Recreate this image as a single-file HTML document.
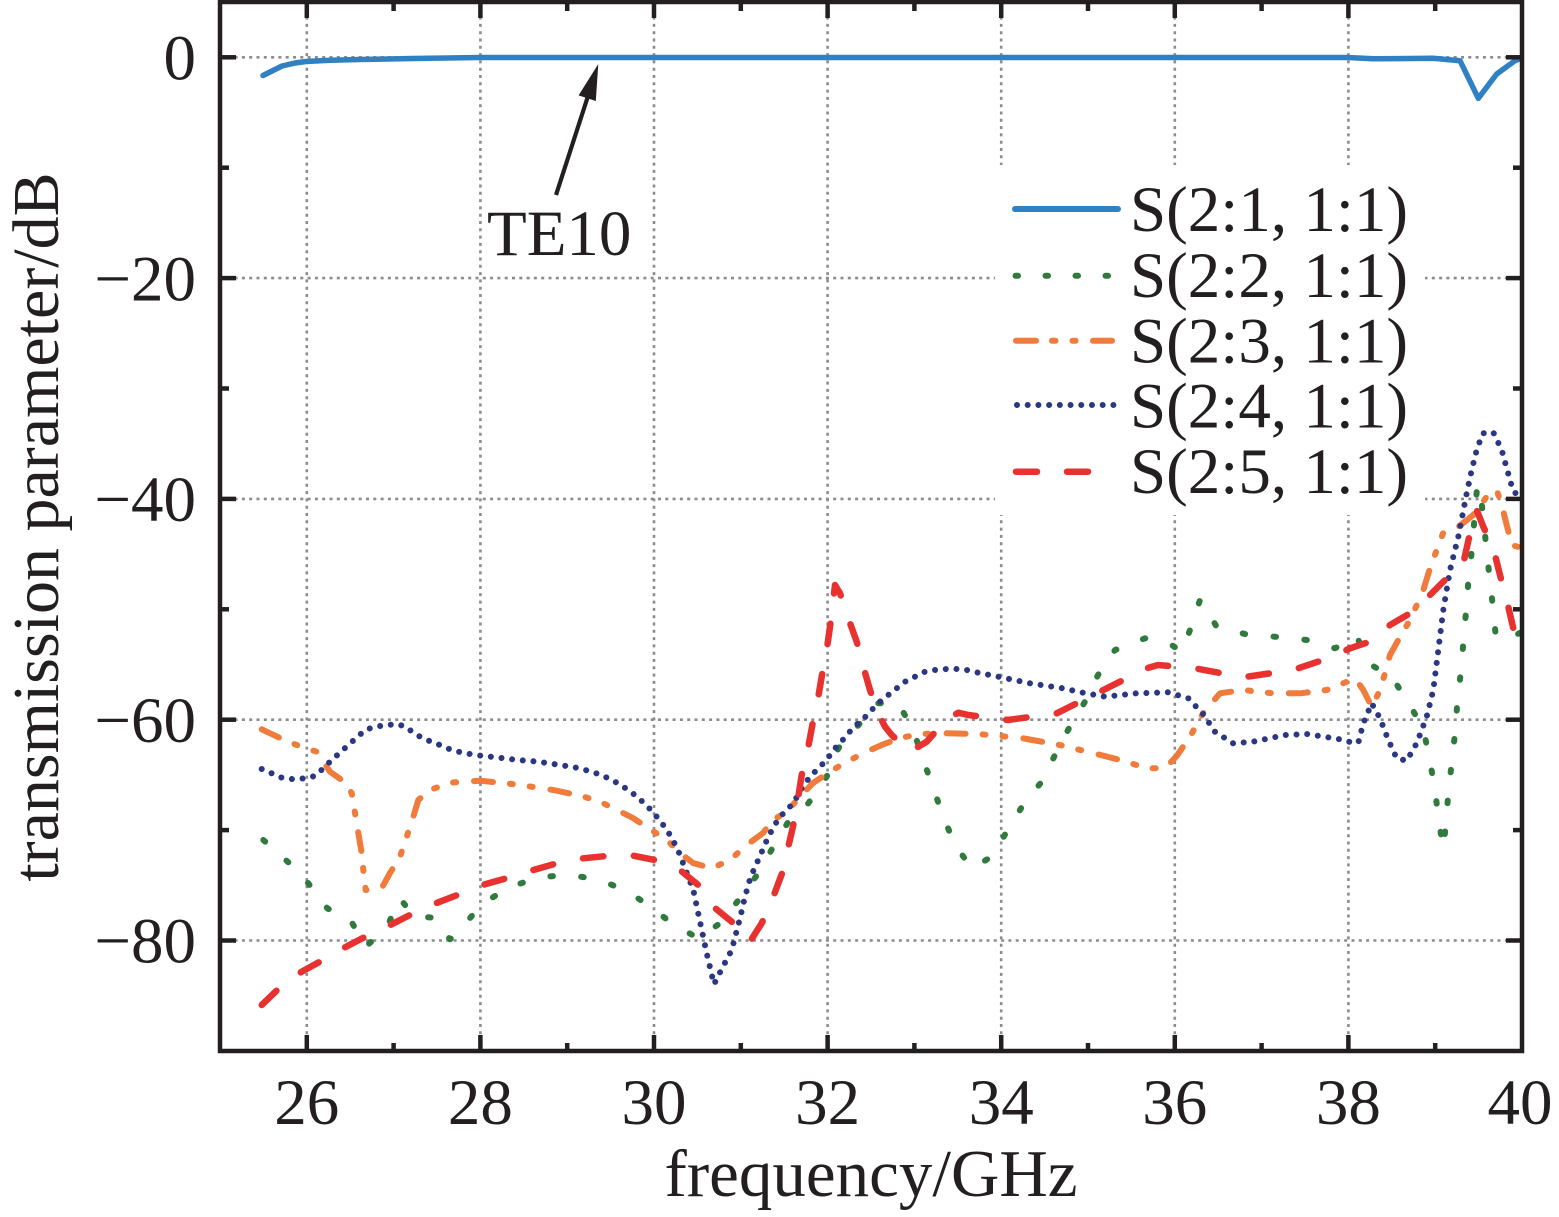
<!DOCTYPE html>
<html>
<head>
<meta charset="utf-8">
<style>
html,body{margin:0;padding:0;background:#fff;}
svg{display:block;}
text{font-family:"Liberation Serif","Times New Roman",serif;fill:#231f20;}
</style>
</head>
<body>
<svg width="1559" height="1217" viewBox="0 0 1559 1217" xmlns="http://www.w3.org/2000/svg">
<defs>
<clipPath id="pa"><rect x="220" y="2" width="1302" height="1049"/></clipPath>
</defs>
<rect x="0" y="0" width="1559" height="1217" fill="#fff"/>

<!-- gridlines -->
<g stroke="#8c8c8c" stroke-width="2.6" stroke-dasharray="3 4.3" fill="none">
<line x1="220" y1="57.3" x2="1522" y2="57.3"/>
<line x1="220" y1="278.1" x2="1522" y2="278.1"/>
<line x1="220" y1="498.9" x2="1522" y2="498.9"/>
<line x1="220" y1="719.7" x2="1522" y2="719.7"/>
<line x1="220" y1="940.5" x2="1522" y2="940.5"/>
<line x1="306.8" y1="2" x2="306.8" y2="1051"/>
<line x1="480.4" y1="2" x2="480.4" y2="1051"/>
<line x1="654" y1="2" x2="654" y2="1051"/>
<line x1="827.6" y1="2" x2="827.6" y2="1051"/>
<line x1="1001.2" y1="2" x2="1001.2" y2="1051"/>
<line x1="1174.8" y1="2" x2="1174.8" y2="1051"/>
<line x1="1348.4" y1="2" x2="1348.4" y2="1051"/>
</g>

<g clip-path="url(#pa)" fill="none" stroke-linejoin="round">
<!-- S(2:2) green dotted -->
<polyline stroke="#2f7a3c" stroke-width="6" stroke-linecap="round" stroke-dasharray="2.5 28.5" points="263.3,840 288.3,862.3 308.3,883.3 327.3,908.3 351,921 365.7,946.7 386.7,927.7 400,898.3 413.3,916 433.3,917.7 450,939.3 463.3,926 481.7,904.3 508.3,887.7 538.3,877.3 568.3,875 596.7,879 625,890 648.3,905 671.7,923.3 698.3,938.3 720,923.3 740,898.3 758.3,873.3 773.3,846.7 788.3,821.7 808.3,803.3 826.7,776.7 838.3,748.3 860,723.3 876.7,703.3 898.3,703.3 913.3,730 923.3,760 933.3,788.3 943.3,816.7 955,845 971.7,868.3 991.7,856.7 1006.7,831.7 1023,805 1041.7,781.7 1055,755 1068,730 1085,701.7 1098,675 1115,650 1145,638.3 1171.7,645 1181.7,651.7 1190,630 1200,600 1216.7,626.7 1245,634 1275,636.7 1306.7,640 1335,648.3 1356.7,636 1368.3,663.3 1391.7,676.7 1408.3,702.7 1423.3,728.3 1429.3,758.3 1435,788.3 1438.3,818.3 1443.3,848.3 1446,823.3 1448.3,793.3 1451.7,763.3 1455,733.3 1457.3,703.3 1460.7,673.3 1463.3,643.3 1466,611.7 1468.3,581.7 1471.7,551.7 1476.7,491.7 1479.3,485 1483.3,516.7 1486,545 1489.3,575 1492.7,605 1495.7,635 1505,640 1522,632"/>
<!-- S(2:3) orange dash-dot-dot -->
<polyline stroke="#f07b3a" stroke-width="6" stroke-linecap="round" stroke-dasharray="19 17 3 17 3 18" points="261.7,729.3 280,738 296.7,745 316.7,751.7 330,771.7 341.7,780 351.7,793 355,813 358.3,833 361.7,853 363.3,870 365.7,890 381.7,888 390,873 400,856.7 406.7,836.7 413.3,816.7 418.3,800 430,790 450,782.7 480,780.7 506.7,783.3 526.7,786 553.3,790 581.7,796 600,801.7 623,813 633,818 648,828 667,840 680,853 693,863 711.7,868.3 730,860 746.7,845 763,833 773,820 786.7,811.7 800,796.7 813,783 830,771.7 846.7,761.7 866.7,751.7 881.7,745 900,738 920,734 946.7,733.3 978,734 996.7,735.7 1023,738.3 1060,745 1096.7,754 1123,760.7 1146.7,768.3 1165,768.3 1176.7,756 1190,736.7 1203,713.3 1220,693.3 1243,690 1273,693.3 1300,693.3 1326.7,690 1335,686.7 1355,678.3 1363.3,690 1371.7,706.7 1379.3,691.7 1385,673.3 1390,655 1398.3,640 1410,620 1418.3,601.7 1423.3,590 1430,568.3 1436.7,550 1443.3,532.7 1458.3,526.7 1473.3,515 1486.7,496.7 1496.7,490 1501.7,505 1506.7,525 1511.7,545 1522,548"/>
<!-- S(2:4) navy dotted -->
<polyline stroke="#2b3781" stroke-width="6" stroke-linecap="round" stroke-dasharray="0.01 10.7" points="261.7,769 273.3,774 283.3,778.3 295,779.3 305,778.3 315,776 323.3,768.3 331.7,760 340,752.7 348.3,745 356.7,737.7 365,730 375,726.7 385.7,725.3 396.7,724 405.7,726.7 413.3,732.7 424,739 434.3,742.7 453.3,750.7 475,755 496,757.3 517.7,760 538.3,761.7 560,765 580,768.3 601.7,775 620,784.3 637.3,796.7 652.7,811.7 666.7,829.3 677.3,848.3 685,868.3 693.3,890 700,921.7 706.7,953.3 714,984.3 721.7,969 731.7,950 740,918.3 745,896.7 750.7,876.7 760,856 768.3,836.7 776.7,821.7 783.3,813.3 793.3,803.3 801.7,788.3 810,776.7 818.3,768.3 826.7,760 833.3,750 840,743.3 848.3,733.3 855,726 864,718.3 871.7,710 880,701.7 888.3,695 896.7,688.3 905,681.7 915,676.7 925,671.7 935,670 946.7,669 956.7,669 966.7,670 978.3,672.7 998.3,676.7 1030,683.3 1063,688.3 1083,692.7 1105,696.7 1136.7,693.3 1168,692.3 1188.3,698.3 1203,714 1215,731.7 1233,743.3 1253,741.7 1285,735 1306.7,734 1338.3,739 1348.3,741.7 1358.3,742.7 1363.3,723.3 1371.7,703.3 1380,718.3 1388.3,740 1396.7,758.3 1406.7,760.7 1416.7,743.3 1426.7,716.7 1433.3,690 1438.3,650 1443.3,610 1450,570 1458.3,536.7 1466.7,493.3 1471.7,470 1476.7,450 1482.7,433.3 1493.3,432.3 1501.7,450 1510,480 1513.3,491.7 1522,497"/>
<!-- S(2:5) red dashed -->
<polyline stroke="#e8322f" stroke-width="6.5" stroke-linecap="round" stroke-dasharray="20.5 30.5" points="261.7,1005 278.3,989 301.7,971.7 321.7,960.7 345,947.3 366.7,936 388.3,926 413.3,913.3 438.3,902.3 460,894 485,884.3 508.3,877.7 533.3,870 556.7,863.3 583.3,858.3 606.7,856 633.3,855.7 655,860 680,870 698.3,885 713.3,906.7 731.7,921.7 750,941.7 761.7,923.3 773.3,896.7 783.3,870 788.3,846.7 793.3,825 798.3,796.7 801.7,775 808.3,746.7 813.3,720 818.3,696.7 821.7,676.7 826.7,650 830,626.7 833.3,600 835,585 840,593.3 848.3,618.3 856.7,641.7 863.3,666.7 870,690 878.3,713.3 885,726.7 891.7,735 910,751.7 926.7,741.7 946.7,719.3 958.3,712.7 968.3,715 1008,720 1056.7,713.3 1100,691.7 1146.7,668.3 1158,665 1195,668.3 1243,677.3 1293,670 1333,656.7 1350,648.3 1375,640 1390,625 1410,613.3 1426.7,598.3 1448.3,576.7 1463.3,563.3 1470,533.3 1476.7,510 1483.3,526.7 1493.3,548.3 1500,575 1506.7,600 1513.3,628.3 1522,632"/>
<!-- S(2:1) blue solid -->
<polyline stroke="#3080c4" stroke-width="5.5" stroke-linecap="round" points="263,75.5 272,71 282,66 295,63 306,61.5 330,60.3 360,59.5 413,58.5 480,57.5 1348,57.5 1373,58.8 1433,58.3 1460,60.7 1478.3,98.3 1496.7,74 1515,60.7 1522,58"/>
</g>

<!-- legend -->
<rect x="995" y="165" width="430" height="350" fill="#fff"/>
<g fill="none" stroke-linecap="round">
<line x1="1015" y1="209" x2="1118" y2="209" stroke="#3080c4" stroke-width="6"/>
<line x1="1015.5" y1="275.7" x2="1115" y2="275.7" stroke="#2f7a3c" stroke-width="6" stroke-dasharray="2.5 27.5"/>
<line x1="1016" y1="340.7" x2="1036" y2="340.7" stroke="#f07b3a" stroke-width="6"/>
<line x1="1052" y1="340.7" x2="1055.5" y2="340.7" stroke="#f07b3a" stroke-width="6"/>
<line x1="1072.5" y1="340.7" x2="1075.5" y2="340.7" stroke="#f07b3a" stroke-width="6"/>
<line x1="1093" y1="340.7" x2="1112" y2="340.7" stroke="#f07b3a" stroke-width="6"/>
<line x1="1017" y1="405" x2="1114" y2="405" stroke="#2b3781" stroke-width="6" stroke-dasharray="0.01 10.7"/>
<line x1="1016" y1="471.7" x2="1037" y2="471.7" stroke="#e8322f" stroke-width="6.5"/>
<line x1="1067" y1="471.7" x2="1088" y2="471.7" stroke="#e8322f" stroke-width="6.5"/>
</g>
<g font-size="65">
<text x="1130" y="231">S(2:1, 1:1)</text>
<text x="1130" y="297">S(2:2, 1:1)</text>
<text x="1130" y="362.5">S(2:3, 1:1)</text>
<text x="1130" y="427.5">S(2:4, 1:1)</text>
<text x="1130" y="493">S(2:5, 1:1)</text>
</g>

<!-- annotation -->
<line x1="556" y1="195" x2="589" y2="93" stroke="#231f20" stroke-width="4.2"/>
<polygon points="598.3,64 595.8,101 578.6,95.4" fill="#231f20"/>
<text x="487" y="255" font-size="65">TE10</text>

<!-- axes frame -->
<rect x="220" y="2" width="1302" height="1049" fill="none" stroke="#231f20" stroke-width="4.5"/>

<!-- ticks -->
<g stroke="#231f20" stroke-width="4.5">
<!-- bottom major -->
<line x1="306.8" y1="1051" x2="306.8" y2="1035"/><line x1="480.4" y1="1051" x2="480.4" y2="1035"/>
<line x1="654" y1="1051" x2="654" y2="1035"/><line x1="827.6" y1="1051" x2="827.6" y2="1035"/>
<line x1="1001.2" y1="1051" x2="1001.2" y2="1035"/><line x1="1174.8" y1="1051" x2="1174.8" y2="1035"/>
<line x1="1348.4" y1="1051" x2="1348.4" y2="1035"/>
<!-- bottom minor -->
<line x1="393.6" y1="1051" x2="393.6" y2="1043"/><line x1="567.2" y1="1051" x2="567.2" y2="1043"/>
<line x1="740.8" y1="1051" x2="740.8" y2="1043"/><line x1="914.4" y1="1051" x2="914.4" y2="1043"/>
<line x1="1088" y1="1051" x2="1088" y2="1043"/><line x1="1261.6" y1="1051" x2="1261.6" y2="1043"/>
<line x1="1435.2" y1="1051" x2="1435.2" y2="1043"/>
<!-- top major -->
<line x1="306.8" y1="2" x2="306.8" y2="18"/><line x1="480.4" y1="2" x2="480.4" y2="18"/>
<line x1="654" y1="2" x2="654" y2="18"/><line x1="827.6" y1="2" x2="827.6" y2="18"/>
<line x1="1001.2" y1="2" x2="1001.2" y2="18"/><line x1="1174.8" y1="2" x2="1174.8" y2="18"/>
<line x1="1348.4" y1="2" x2="1348.4" y2="18"/>
<!-- top minor -->
<line x1="393.6" y1="2" x2="393.6" y2="11"/><line x1="567.2" y1="2" x2="567.2" y2="11"/>
<line x1="740.8" y1="2" x2="740.8" y2="11"/><line x1="914.4" y1="2" x2="914.4" y2="11"/>
<line x1="1088" y1="2" x2="1088" y2="11"/><line x1="1261.6" y1="2" x2="1261.6" y2="11"/>
<line x1="1435.2" y1="2" x2="1435.2" y2="11"/>
<!-- left major -->
<line x1="220" y1="57.3" x2="236" y2="57.3"/><line x1="220" y1="278.1" x2="236" y2="278.1"/>
<line x1="220" y1="498.9" x2="236" y2="498.9"/><line x1="220" y1="719.7" x2="236" y2="719.7"/>
<line x1="220" y1="940.5" x2="236" y2="940.5"/>
<!-- left minor -->
<line x1="220" y1="167.7" x2="229" y2="167.7"/><line x1="220" y1="388.5" x2="229" y2="388.5"/>
<line x1="220" y1="609.3" x2="229" y2="609.3"/><line x1="220" y1="830.1" x2="229" y2="830.1"/>
<!-- right major -->
<line x1="1522" y1="57.3" x2="1506" y2="57.3"/><line x1="1522" y1="278.1" x2="1506" y2="278.1"/>
<line x1="1522" y1="498.9" x2="1506" y2="498.9"/><line x1="1522" y1="719.7" x2="1506" y2="719.7"/>
<line x1="1522" y1="940.5" x2="1506" y2="940.5"/>
<!-- right minor -->
<line x1="1522" y1="167.7" x2="1513" y2="167.7"/><line x1="1522" y1="388.5" x2="1513" y2="388.5"/>
<line x1="1522" y1="609.3" x2="1513" y2="609.3"/><line x1="1522" y1="830.1" x2="1513" y2="830.1"/>
</g>

<!-- tick labels -->
<g font-size="65" text-anchor="middle">
<text x="306.8" y="1124">26</text>
<text x="480.4" y="1124">28</text>
<text x="654" y="1124">30</text>
<text x="827.6" y="1124">32</text>
<text x="1001.2" y="1124">34</text>
<text x="1174.8" y="1124">36</text>
<text x="1348.4" y="1124">38</text>
<text x="1520" y="1124">40</text>
</g>
<g font-size="65" text-anchor="end">
<text x="196" y="79.5">0</text>
<text x="196" y="300.3">−20</text>
<text x="196" y="521.1">−40</text>
<text x="196" y="741.9">−60</text>
<text x="196" y="962.7">−80</text>
</g>

<!-- axis titles -->
<text x="871" y="1196" font-size="67" text-anchor="middle">frequency/GHz</text>
<text transform="translate(58,527) rotate(-90)" font-size="66" text-anchor="middle">transmission parameter/dB</text>
</svg>
</body>
</html>
